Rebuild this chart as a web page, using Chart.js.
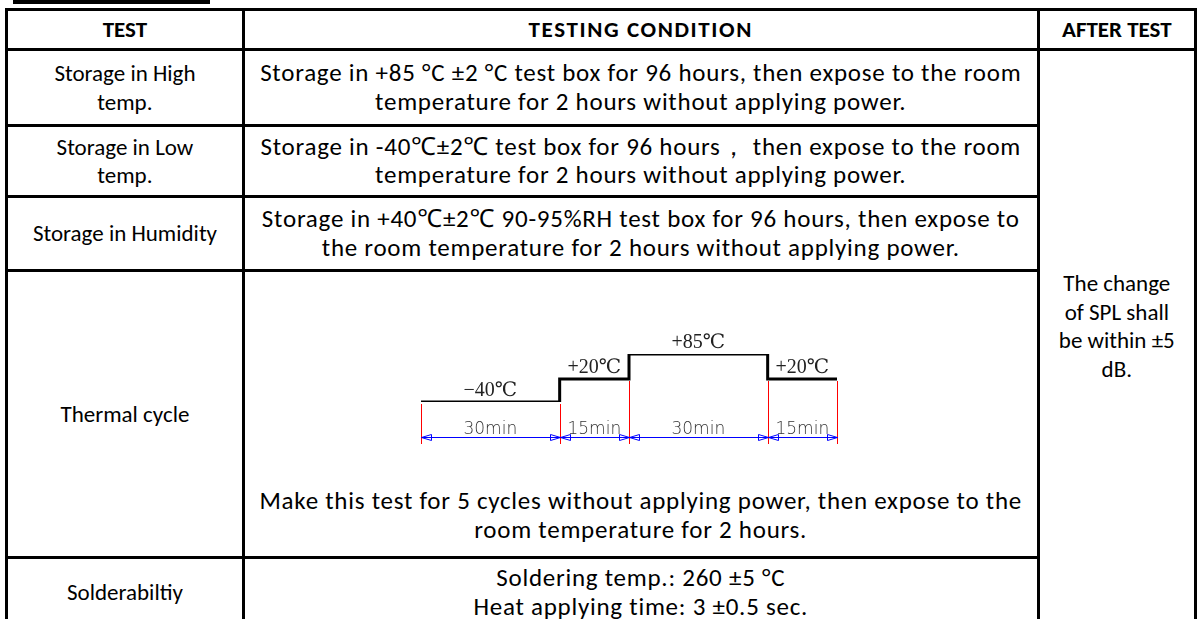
<!DOCTYPE html>
<html>
<head>
<meta charset="utf-8">
<script src="https://cdn.jsdelivr.net/npm/chart.js@4.4.1/dist/chart.umd.min.js"></script>
<style>
html, body { margin: 0; padding: 0; background: #fff; width: 1197px; height: 619px; overflow: hidden; }
body { position: relative; font-family: Carlito, Lato, "Noto Sans", sans-serif; font-size: 23px; color: #000; }
#caption { position: absolute; left: 13px; top: 0; width: 197px; height: 4px; background: #000; }
table { position: absolute; left: 5px; top: 8px; border-collapse: collapse; table-layout: fixed; }
td, th { border: 3px solid #000; padding: 0; text-align: center; vertical-align: middle; line-height: 28.5px; white-space: nowrap; }
th { font-weight: bold; }
th.wide { letter-spacing: 1.6px; }
.cond { font-size: 25px; letter-spacing: 0.75px; }
td.bottom { vertical-align: bottom; padding-bottom: 12px; }
td.after { vertical-align: top; padding-top: 218px; }
#cycle { position: absolute; left: 0; top: 0; pointer-events: none; }
</style>
</head>
<body>
<div id="caption"></div>
<table>
  <colgroup><col style="width:239px"><col style="width:796px"><col style="width:159px"></colgroup>
  <tr style="height:40px"><th>TEST</th><th class="wide">TESTING CONDITION</th><th>AFTER TEST</th></tr>
  <tr style="height:76px">
    <td>Storage in High<br>temp.</td>
    <td class="cond">Storage in +85 °C ±2 °C test box for 96 hours, then expose to the room<br>temperature for 2 hours without applying power.</td>
    <td class="after" rowspan="5">The change<br>of SPL shall<br>be within ±5<br>dB.</td>
  </tr>
  <tr style="height:71px">
    <td>Storage in Low<br>temp.</td>
    <td class="cond">Storage in -40℃±2℃ test box for 96 hours，  then expose to the room<br>temperature for 2 hours without applying power.</td>
  </tr>
  <tr style="height:74px">
    <td>Storage in Humidity</td>
    <td class="cond">Storage in +40℃±2℃ 90-95%RH test box for 96 hours, then expose to<br>the room temperature for 2 hours without applying power.</td>
  </tr>
  <tr style="height:287px">
    <td>Thermal cycle</td>
    <td class="cond bottom">Make this test for 5 cycles without applying power, then expose to the<br>room temperature for 2 hours.</td>
  </tr>
  <tr style="height:70px">
    <td>Solderabiltiy</td>
    <td class="cond">Soldering temp.: 260 ±5 °C<br>Heat applying time: 3 ±0.5 sec.</td>
  </tr>
</table>
<canvas id="cycle" width="1197" height="619"></canvas>
<script>
// thermal cycle profile
const segMinutes = [30, 15, 30, 15];
const segTemps = [-40, 20, 85, 20];
const tempLabels = ["−40℃", "+20℃", "+85℃", "+20℃"];
const timeLabels = ["30min", "15min", "30min", "15min"];

let bounds = [0];
segMinutes.forEach(m => bounds.push(bounds[bounds.length - 1] + m));

let points = segTemps.map((t, i) => ({ x: bounds[i], y: t }));
points.push({ x: bounds[bounds.length - 1], y: segTemps[segTemps.length - 1] });

const cycleMarks = {
    id: "cycleMarks",
    afterDatasetsDraw(chart) {
        const { ctx, chartArea } = chart;
        const x = chart.scales.x, y = chart.scales.y;
        const dimY = chartArea.bottom + 35.5;
        const tickEnd = chartArea.bottom + 42;

        ctx.save();

        // red extension lines at each boundary
        ctx.strokeStyle = "#ff0000";
        ctx.lineWidth = 1;
        bounds.forEach((b, i) => {
            let near = [segTemps[i - 1], segTemps[i]].filter(v => v !== undefined);
            let px = Math.round(x.getPixelForValue(b)) + 0.5;
            ctx.beginPath();
            ctx.moveTo(px, y.getPixelForValue(Math.min(...near)) + 2);
            ctx.lineTo(px, tickEnd);
            ctx.stroke();
        });

        // blue dimension lines with open arrowheads
        ctx.strokeStyle = "#0000ff";
        for (let i = 0; i < segMinutes.length; i++) {
            let x0 = Math.round(x.getPixelForValue(bounds[i])) + 0.5;
            let x1 = Math.round(x.getPixelForValue(bounds[i + 1])) + 0.5;
            ctx.beginPath();
            ctx.moveTo(x0, dimY);
            ctx.lineTo(x1, dimY);
            ctx.stroke();
            ctx.beginPath();
            ctx.moveTo(x0, dimY); ctx.lineTo(x0 + 10, dimY - 3); ctx.lineTo(x0 + 10, dimY + 3); ctx.closePath();
            ctx.moveTo(x1, dimY); ctx.lineTo(x1 - 10, dimY - 3); ctx.lineTo(x1 - 10, dimY + 3); ctx.closePath();
            ctx.stroke();
        }

        // labels
        ctx.textAlign = "center";
        ctx.textBaseline = "alphabetic";
        for (let i = 0; i < segMinutes.length; i++) {
            let cx = (x.getPixelForValue(bounds[i]) + x.getPixelForValue(bounds[i + 1])) / 2;
            ctx.fillStyle = "#222";
            ctx.font = "20px 'Liberation Serif', 'DejaVu Serif', serif";
            ctx.fillText(tempLabels[i], cx, y.getPixelForValue(segTemps[i]) - 6);
            ctx.fillStyle = "#333";
            ctx.font = "200 17px 'DejaVu Sans', sans-serif";
            ctx.fillText(timeLabels[i], cx, dimY - 4);
        }
        ctx.restore();
    }
};

new Chart(document.getElementById("cycle"), {
    type: "line",
    data: {
        datasets: [{
            data: points,
            stepped: true,
            borderColor: "#000",
            borderWidth: 3,
            pointRadius: 0,
            fill: false
        }]
    },
    options: {
        responsive: false,
        animation: false,
        layout: { padding: { left: 421, right: 360, top: 354, bottom: 217 } },
        scales: {
            x: { type: "linear", min: 0, max: 90, display: false },
            y: { type: "linear", min: -40, max: 85, display: false }
        },
        plugins: { legend: { display: false }, tooltip: { enabled: false } }
    },
    plugins: [cycleMarks]
});
</script>
</body>
</html>
